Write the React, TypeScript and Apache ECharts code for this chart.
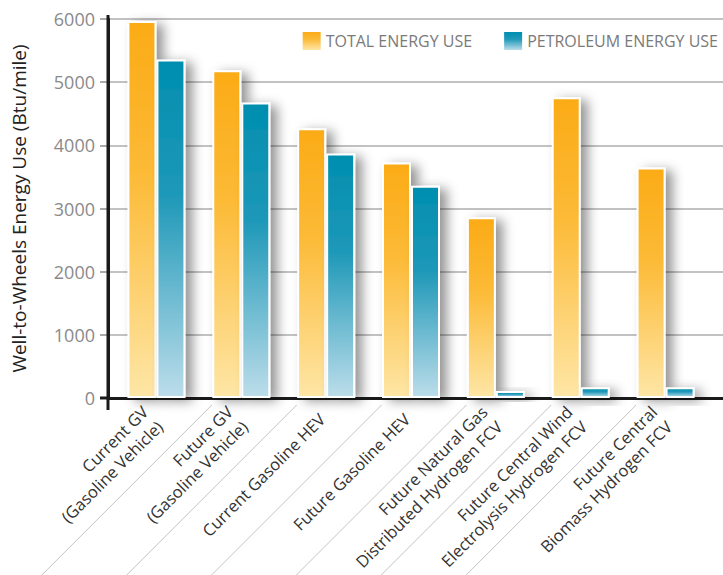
import React, { useEffect, useRef } from "react";
import * as echarts from "echarts";

const categories = [
  "Current GV\n(Gasoline Vehicle)",
  "Future GV\n(Gasoline Vehicle)",
  "Current Gasoline HEV",
  "Future Gasoline HEV",
  "Future Natural Gas\nDistributed Hydrogen FCV",
  "Future Central Wind\nElectrolysis Hydrogen FCV",
  "Future Central\nBiomass Hydrogen FCV",
];
const totalEnergy = [5970, 5190, 4270, 3730, 2860, 4760, 3650];
const petroleumEnergy = [5360, 4680, 3870, 3360, 110, 170, 170];
const seriesNames = ["TOTAL ENERGY USE", "PETROLEUM ENERGY USE"];
const yMin = 0;
const yMax = 6000;
const yInterval = 1000;

const FONT = "'Open Sans', Lato, sans-serif";

const orangeGrad = new echarts.graphic.LinearGradient(0, 0, 0, 1, [
  { offset: 0, color: "#FBAB16" },
  { offset: 0.4, color: "#FCBA36" },
  { offset: 1, color: "#FEE6A6" },
]);
const blueGrad = new echarts.graphic.LinearGradient(0, 0, 0, 1, [
  { offset: 0, color: "#008EAF" },
  { offset: 0.4, color: "#1E98B8" },
  { offset: 1, color: "#BCDDEA" },
]);

export default function App() {
  const ref = useRef<HTMLDivElement>(null);
  useEffect(() => {
    if (!ref.current) return;
    const chart = echarts.init(ref.current, null, { renderer: "svg" });
    const barStyle = (c: any) => ({
      color: c,
      borderColor: "#ffffff",
      borderWidth: 2,
      shadowBlur: 12,
      shadowColor: "rgba(0,0,0,0.42)",
      shadowOffsetX: 7,
      shadowOffsetY: 3,
    });
    chart.setOption({
      animation: false,
      backgroundColor: "#ffffff",
      textStyle: { fontFamily: FONT },
      legend: {
        top: 27,
        right: 0,
        itemWidth: 18,
        itemHeight: 18,
        itemGap: 32,
        itemTextGap: 9,
        icon: "rect",
        data: seriesNames,
        itemStyle: { borderWidth: 0, shadowBlur: 0, shadowOffsetX: 0, shadowOffsetY: 0 },
        textStyle: { color: "#7a7a7a", fontSize: 16, fontFamily: FONT },
      },
      grid: [
        { left: 108, right: 0, top: 19, bottom: 177, containLabel: false, outerBoundsMode: "none" },
        { left: 114, right: 15, top: 19, bottom: 177, containLabel: false, outerBoundsMode: "none" },
      ],
      xAxis: [
        {
          gridIndex: 0,
          type: "value",
          min: 0,
          max: 1,
          axisLine: { show: true, lineStyle: { color: "#1a1a1a", width: 3 } },
          axisTick: { show: false },
          axisLabel: { show: false },
          splitLine: { show: false },
        },
        {
          gridIndex: 1,
          type: "category",
          data: categories,
          axisLine: { show: false },
          axisTick: { show: false },
          axisLabel: {
            rotate: 45,
            interval: 0,
            margin: 14,
            padding: [0, 6, 0, 0],
            color: "#333333",
            fontSize: 16.5,
            lineHeight: 21,
            fontFamily: FONT,
          },
        },
      ],
      yAxis: [
        {
          gridIndex: 0,
          type: "value",
          min: yMin,
          max: yMax,
          interval: yInterval,
          name: "Well-to-Wheels Energy Use (Btu/mile)",
          nameLocation: "middle",
          nameGap: 80,
          nameTextStyle: { color: "#222222", fontSize: 19, fontFamily: FONT },
          axisLine: { show: true, lineStyle: { color: "#1a1a1a", width: 3 } },
          axisTick: { show: true, length: 8, lineStyle: { color: "#aaaaaa", width: 2 } },
          axisLabel: {
            color: "#8a8a8a",
            fontSize: 18,
            margin: 13,
            fontFamily: FONT,
            formatter: (v: number) => String(v),
          },
          splitLine: { show: true, lineStyle: { color: "#c2c2c2", width: 2 } },
        },
        {
          gridIndex: 1,
          type: "value",
          min: yMin,
          max: yMax,
          interval: yInterval,
          axisLine: { show: false },
          axisTick: { show: false },
          axisLabel: { show: false },
          splitLine: { show: false },
        },
      ],
      series: [
        {
          name: seriesNames[0],
          type: "bar",
          xAxisIndex: 1,
          yAxisIndex: 1,
          data: totalEnergy,
          barWidth: 29,
          barGap: "0%",
          itemStyle: barStyle(orangeGrad),
          z: 3,
        },
        {
          name: seriesNames[1],
          type: "bar",
          xAxisIndex: 1,
          yAxisIndex: 1,
          data: petroleumEnergy,
          barWidth: 29,
          barGap: "0%",
          itemStyle: barStyle(blueGrad),
          z: 3,
        },
      ],
    });

    // decorative lines derived from the axes' own scales
    const centers = categories.map((_, i) =>
      chart.convertToPixel({ xAxisIndex: 1 }, i) as number
    );
    const yZero = chart.convertToPixel({ yAxisIndex: 0 }, yMin) as number;
    const yTop = chart.convertToPixel({ yAxisIndex: 0 }, yMax) as number;
    const xAxisPos = chart.convertToPixel({ xAxisIndex: 0 }, 0) as number;
    const h = 575;
    const elements: any[] = [];
    for (let i = 0; i < centers.length - 1; i++) {
      const b = (centers[i] + centers[i + 1]) / 2;
      const sx = b + 13;
      const sy = yZero + 7;
      const len = h - sy;
      elements.push({
        type: "line",
        silent: true,
        shape: { x1: sx, y1: sy, x2: sx - len, y2: h },
        style: { stroke: "#c4c4c4", lineWidth: 1 },
      });
    }
    elements.push({
      type: "line",
      silent: true,
      z: 10,
      shape: { x1: xAxisPos, y1: yTop - 4, x2: xAxisPos, y2: yZero + 12 },
      style: { stroke: "#1a1a1a", lineWidth: 3 },
    });
    elements.push({
      type: "line",
      silent: true,
      z: 10,
      shape: { x1: xAxisPos - 8, y1: yZero, x2: xAxisPos, y2: yZero },
      style: { stroke: "#1a1a1a", lineWidth: 3 },
    });
    chart.setOption({ graphic: { elements } });

    return () => chart.dispose();
  }, []);
  return (
    <div
      ref={ref}
      style={{ position: "absolute", left: 0, top: 0, width: 723, height: 575 }}
    />
  );
}
